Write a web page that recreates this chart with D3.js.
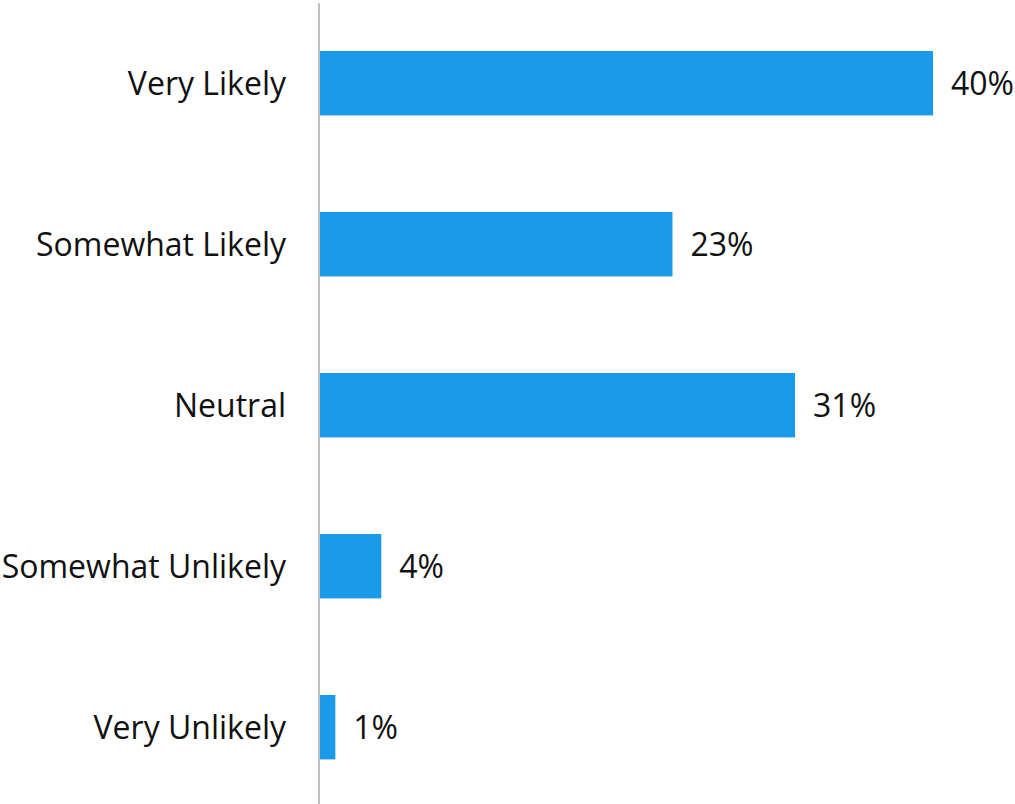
<!DOCTYPE html>
<html>
<head>
<meta charset="utf-8">
<script src="https://cdn.jsdelivr.net/npm/d3@7"></script>
<style>
  html, body { margin: 0; padding: 0; background: #fff; }
  svg { display: block; }
  text { font-family: "Open Sans", sans-serif; fill: #111; }
</style>
</head>
<body>
<svg id="chart" width="1015" height="804"></svg>
<script>
// Survey responses and their shares (percent)
const categories = ["Very Likely", "Somewhat Likely", "Neutral", "Somewhat Unlikely", "Very Unlikely"];
const values = [40, 23, 31, 4, 1];

const svg = d3.select("#chart");
const fontSize = 32;

const x0 = 320;
const x = d3.scaleLinear().domain([0, 40]).range([x0, 933]);
const y = d3.scaleBand()
  .domain(categories)
  .range([2.7, 807.7])
  .paddingInner(0.6)
  .paddingOuter(0.3);

// Bars
svg.append("g")
  .selectAll("rect")
  .data(categories)
  .join("rect")
  .attr("x", x(0))
  .attr("y", d => y(d))
  .attr("width", (d, i) => x(values[i]) - x(0))
  .attr("height", y.bandwidth())
  .attr("fill", "#1a9ae8");

// Category labels
svg.append("g")
  .selectAll("text")
  .data(categories)
  .join("text")
  .attr("x", 286)
  .attr("y", d => y(d) + y.bandwidth() / 2)
  .attr("dy", "0.38em")
  .attr("text-anchor", "end")
  .attr("font-size", fontSize)
  .text(d => d);

// Value labels
svg.append("g")
  .selectAll("text")
  .data(categories)
  .join("text")
  .attr("x", (d, i) => x(values[i]) + 18)
  .attr("y", d => y(d) + y.bandwidth() / 2)
  .attr("dy", "0.38em")
  .attr("font-size", fontSize)
  .text((d, i) => values[i] + "%");

// Category axis line
svg.append("line")
  .attr("x1", 319).attr("x2", 319)
  .attr("y1", 3).attr("y2", 804)
  .attr("stroke", "#aaaaaa")
  .attr("stroke-width", 1.5);
</script>
</body>
</html>
